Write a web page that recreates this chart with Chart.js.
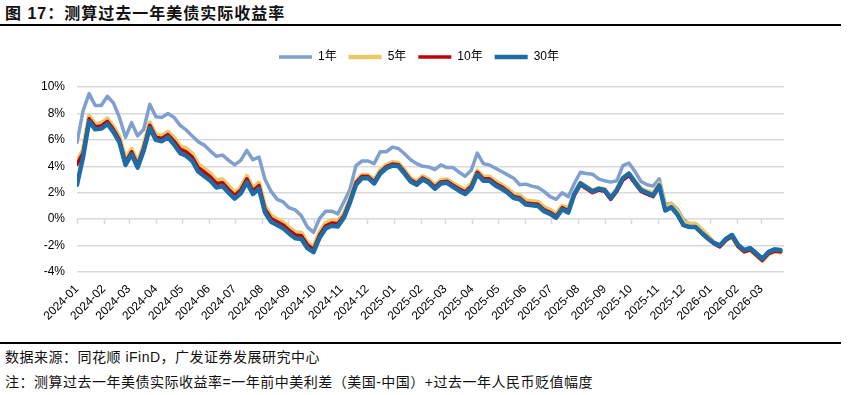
<!DOCTYPE html>
<html>
<head>
<meta charset="utf-8">
<script src="https://cdn.jsdelivr.net/npm/chart.js@4.4.1/dist/chart.umd.min.js"></script>
<style>
  body { margin: 0; width: 860px; height: 395px; background: #fff; position: relative; overflow: hidden;
         font-family: "Liberation Sans", "Noto Sans CJK SC", sans-serif; color: #111; }
  #title { position: absolute; left: 5px; top: 5px; font-size: 16px; line-height: 18px; font-weight: bold; letter-spacing: 1px; }
  .rule { position: absolute; left: 0; width: 841px; height: 2px; background: #000; }
  #wrap { position: absolute; left: 0; top: 30px; width: 860px; height: 310px; }
  .note { position: absolute; left: 5px; font-size: 14px; line-height: 16px; letter-spacing: 0.5px; white-space: nowrap; }
</style>
</head>
<body>
<div id="title">图 17：测算过去一年美债实际收益率</div>
<div class="rule" style="top:24px"></div>
<div id="wrap"><canvas id="myChart" width="860" height="310"></canvas></div>
<div class="rule" style="top:342px"></div>
<div class="note" style="top:349px">数据来源：同花顺 iFinD，广发证券发展研究中心</div>
<div class="note" style="top:374px">注：测算过去一年美债实际收益率=一年前中美利差（美国-中国）+过去一年人民币贬值幅度</div>

<script>
// weekly observations starting from this date
var startDate = "2024-01-01";

var monthLabels = [
  "2024-01", "2024-02", "2024-03", "2024-04", "2024-05", "2024-06", "2024-07", "2024-08", "2024-09",
  "2024-10", "2024-11", "2024-12", "2025-01", "2025-02", "2025-03", "2025-04", "2025-05", "2025-06",
  "2025-07", "2025-08", "2025-09", "2025-10", "2025-11", "2025-12", "2026-01", "2026-02", "2026-03",
];

var seriesNames = ["1年", "5年", "10年", "30年"];

var y1 = [
  5.8, 8.2, 9.5, 8.6, 8.6, 9.3, 8.8, 7.7, 6.2, 7.3,
  6.3, 6.8, 8.7, 7.75, 7.7, 8.0, 7.7, 7.1, 6.75, 6.3,
  5.85, 5.6, 5.15, 4.75, 4.85, 4.45, 4.1, 4.45, 5.2, 4.5,
  4.7, 3.0, 2.1, 1.5, 1.3, 0.85, 0.7, 0.25, -0.6, -1.0,
  0.05, 0.6, 0.6, 0.4, 1.3, 2.25, 4.05, 4.4, 4.4, 4.2,
  5.1, 5.1, 5.45, 5.35, 4.95, 4.5, 4.2, 4.0, 3.95, 3.75,
  4.1, 3.9, 3.9, 3.55, 3.25, 3.7, 5.0, 4.2, 4.1, 3.85,
  3.6, 3.35, 3.1, 2.6, 2.65, 2.5, 2.4, 2.1, 1.7, 1.5,
  2.0, 1.7, 2.7, 3.55, 3.45, 3.4, 3.05, 2.9, 2.8, 2.9,
  4.05, 4.25, 3.6, 2.85, 2.6, 2.5, 3.05, 1.1, 1.2, 0.75,
  -0.05, -0.35, -0.5, -0.8, -1.35, -1.75, -1.95, -1.45, -1.2, -1.9,
  -2.3, -2.15, -2.55, -2.95, -2.45, -2.25, -2.3,
];

var y5 = [
  4.4, 5.2, 7.8, 7.2, 7.25, 7.6, 7.0, 6.2, 4.5, 5.3,
  4.3, 5.6, 7.3, 6.4, 6.3, 6.6, 6.15, 5.5, 5.35, 4.95,
  4.15, 3.8, 3.45, 2.95, 3.0, 2.5, 2.0, 2.4, 3.25, 2.35,
  2.75, 0.95, 0.25, 0.0, -0.25, -0.65, -1.0, -1.05, -1.8, -2.1,
  -1.0, -0.3, -0.1, -0.15, 0.4, 1.5, 2.85, 3.35, 3.35, 2.95,
  3.7, 4.1, 4.3, 4.25, 3.7, 3.1, 2.85, 3.25, 3.0, 2.55,
  2.95, 3.0, 2.7, 2.45, 2.2, 2.65, 3.65, 3.2, 3.2, 2.85,
  2.6, 2.3, 1.9, 1.8, 1.4, 1.35, 1.3, 0.9, 0.7, 0.4,
  1.0, 0.8, 1.95, 2.75, 2.45, 2.15, 2.35, 2.25, 1.65, 2.25,
  3.1, 3.45, 2.85, 2.3, 2.1, 1.95, 2.7, 0.9, 1.15, 0.6,
  -0.2, -0.35, -0.35, -0.8, -1.25, -1.75, -2.05, -1.55, -1.3, -2.05,
  -2.45, -2.3, -2.7, -3.15, -2.65, -2.45, -2.5,
];

var y10 = [
  4.15, 5.0, 7.6, 7.0, 7.05, 7.4, 6.8, 6.0, 4.3, 5.1,
  4.1, 5.4, 7.1, 6.2, 6.1, 6.4, 5.9, 5.3, 5.1, 4.7,
  3.9, 3.55, 3.2, 2.7, 2.75, 2.25, 1.8, 2.2, 3.05, 2.15,
  2.55, 0.75, 0.05, -0.2, -0.45, -0.85, -1.2, -1.25, -1.95, -2.3,
  -1.2, -0.5, -0.3, -0.35, 0.25, 1.4, 2.75, 3.25, 3.22, 2.82,
  3.57, 3.97, 4.17, 4.12, 3.57, 2.97, 2.72, 3.12, 2.87, 2.42,
  2.82, 2.87, 2.57, 2.3, 2.05, 2.5, 3.55, 3.05, 3.05, 2.7,
  2.45, 2.12, 1.72, 1.62, 1.22, 1.17, 1.12, 0.72, 0.52, 0.22,
  0.87, 0.62, 1.8, 2.6, 2.3, 2.0, 2.2, 2.1, 1.5, 2.1,
  2.95, 3.3, 2.7, 2.1, 1.9, 1.7, 2.5, 0.65, 0.9, 0.35,
  -0.45, -0.6, -0.62, -1.07, -1.5, -1.85, -2.1, -1.6, -1.32, -2.07,
  -2.47, -2.32, -2.72, -3.12, -2.62, -2.42, -2.47,
];

var y30 = [
  2.6, 4.7, 7.4, 6.8, 6.85, 7.2, 6.6, 5.8, 4.1, 4.9,
  3.9, 5.2, 6.9, 6.0, 5.9, 6.2, 5.65, 5.0, 4.8, 4.4,
  3.6, 3.25, 2.9, 2.4, 2.5, 2.0, 1.55, 1.95, 2.8, 1.9,
  2.3, 0.5, -0.2, -0.45, -0.7, -1.1, -1.45, -1.5, -2.2, -2.5,
  -1.4, -0.7, -0.5, -0.55, 0.1, 1.25, 2.6, 3.1, 3.1, 2.7,
  3.45, 3.85, 4.05, 4.0, 3.45, 2.85, 2.6, 3.0, 2.75, 2.3,
  2.7, 2.75, 2.45, 2.15, 1.9, 2.35, 3.4, 2.9, 2.9, 2.55,
  2.3, 2.0, 1.6, 1.5, 1.1, 1.05, 1.0, 0.6, 0.4, 0.1,
  0.75, 0.5, 1.9, 2.7, 2.4, 2.1, 2.3, 2.2, 1.6, 2.2,
  3.1, 3.45, 2.8, 2.2, 2.0, 1.8, 2.55, 0.65, 0.9, 0.35,
  -0.45, -0.6, -0.6, -1.05, -1.45, -1.8, -2.0, -1.5, -1.2, -1.95,
  -2.35, -2.2, -2.6, -3.0, -2.5, -2.3, -2.35,
];

var DAY = 86400000;
var t0 = Date.parse(startDate);

var dates = [];
for (var i = 0; i < y30.length; i++) {
  dates.push(new Date(t0 + i * 7 * DAY).toISOString().slice(0, 10));
}

function dayOf(s) {
  if (s.length === 7) s = s + "-01";
  return Math.round((Date.parse(s) - t0) / DAY);
}

var monthDays = monthLabels.map(dayOf);

function points(vals) {
  return vals.map(function (v, i) {
    return { x: dayOf(dates[i]), y: v };
  });
}

Chart.defaults.font.family = '"Liberation Sans", "Noto Sans CJK SC", sans-serif';
Chart.defaults.font.size = 12;
Chart.defaults.color = "#000";

// small tick marks hanging under the 0% line, one per month
var zeroTicks = {
  id: "zeroTicks",
  beforeDatasetsDraw: function (chart) {
    var xs = chart.scales.x, ys = chart.scales.y, ctx = chart.ctx;
    var y0 = Math.round(ys.getPixelForValue(0));
    ctx.save();
    ctx.strokeStyle = "#d9d9d9";
    ctx.lineWidth = 1.5;
    ctx.beginPath();
    monthDays.forEach(function (d) {
      var px = Math.round(xs.getPixelForValue(d)) + 0.5;
      ctx.moveTo(px, y0);
      ctx.lineTo(px, y0 + 5);
    });
    ctx.stroke();
    ctx.restore();
  },
};

function line(label, vals, color, width, order) {
  return {
    label: label,
    data: points(vals),
    borderColor: color,
    backgroundColor: color,
    borderWidth: width,
    borderCapStyle: "round",
    borderJoinStyle: "round",
    pointRadius: 0,
    tension: 0,
    order: order,
  };
}

var ctx = document.getElementById("myChart").getContext("2d");

var myChart = new Chart(ctx, {
  type: "line",
  data: {
    datasets: [
      line(seriesNames[0], y1, "#7F9FCF", 3.5, 3),
      line(seriesNames[1], y5, "#E8C767", 4.5, 2),
      line(seriesNames[2], y10, "#C00000", 3.5, 1),
      line(seriesNames[3], y30, "#1F6BA6", 4.5, 0),
    ],
  },
  options: {
    responsive: false,
    animation: false,
    layout: { padding: { left: 0, right: 22, top: 9, bottom: 0 } },
    plugins: {
      legend: {
        position: "top",
        labels: {
          usePointStyle: true,
          pointStyle: "line",
          pointStyleWidth: 33,
          padding: 12,
          color: "#000",
          font: { size: 12 },
          sort: function (a, b) { return a.datasetIndex - b.datasetIndex; },
        },
      },
      // empty spacer between legend and plot
      title: { display: true, text: "", weight: 500, padding: 0, font: { size: 14, lineHeight: 1 } },
      tooltip: { enabled: false },
    },
    scales: {
      x: {
        type: "linear",
        min: 0,
        max: 816,
        grid: { display: false, drawTicks: false },
        border: { display: false },
        afterBuildTicks: function (s) {
          s.ticks = monthDays.map(function (d) { return { value: d }; });
        },
        afterFit: function (s) { s.height = 68; },
        ticks: {
          autoSkip: false,
          minRotation: 45,
          maxRotation: 45,
          padding: 10,
          color: "#000",
          font: { size: 12 },
          callback: function (v) {
            var k = monthDays.indexOf(v);
            return k < 0 ? "" : monthLabels[k];
          },
        },
      },
      y: {
        min: -4,
        max: 10,
        grid: { color: "#d9d9d9", lineWidth: 1.5, drawTicks: false },
        border: { display: false },
        afterFit: function (s) { s.width = 77; },
        ticks: {
          stepSize: 2,
          padding: 12,
          color: "#000",
          font: { size: 12 },
          callback: function (v) { return v + "%"; },
        },
      },
      // empty right-hand gutter so the legend centres like the original
      yRight: {
        position: "right",
        grid: { display: false, drawTicks: false },
        border: { display: false },
        ticks: { display: false },
        afterFit: function (s) { s.width = 54; },
      },
    },
  },
  plugins: [zeroTicks],
});
</script>
</body>
</html>
